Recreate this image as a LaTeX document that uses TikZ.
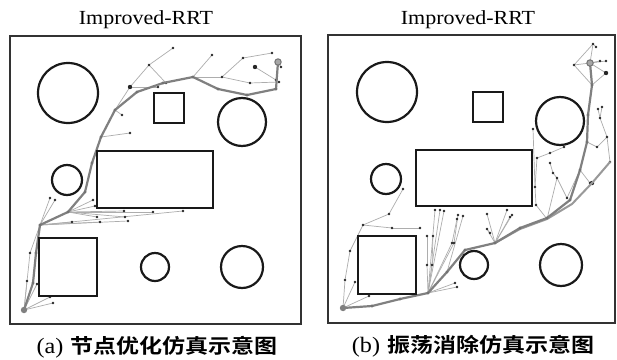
\documentclass[tikz,border=0pt]{standalone}
\usepackage{fontspec}
\setmainfont{Liberation Serif}
\newfontfamily\cjk[FakeStretch=1.15]{Noto Sans CJK SC Bold}
\newfontfamily\wideserif[FakeStretch=1.1]{Liberation Serif}
\begin{document}
\begin{tikzpicture}[x=1pt,y=-1pt,
  frame/.style={draw=black!80,line width=1.8pt},
  obst/.style={draw=black!90,line width=2.2pt},
  pathln/.style={draw=black!50,line width=2.2pt,line join=round,line cap=round},
  path2/.style={draw=black!40,line width=2pt,line join=round,line cap=round},
  tree/.style={draw=black!32,line width=0.7pt},
  dot/.style={fill=black!85},
  ttl/.style={font=\wideserif\fontsize{20}{22}\selectfont,inner sep=0pt},
  captxt/.style={inner sep=0pt}]
\useasboundingbox (0,0) rectangle (617,359);
\fill[white] (0,0) rectangle (617,359);

% titles
\node[ttl] (tA) at (146,20) {Improved-RRT};
\node[ttl] (tB) at (468,20) {Improved-RRT};

% captions
\node[captxt] (cA) at (157,347) {\wideserif\fontsize{22}{24}\selectfont (a)\hspace{7pt}{\cjk\fontsize{20}{22}\selectfont 节点优化仿真示意图}};
\node[captxt] (cB) at (473,346) {\wideserif\fontsize{22}{24}\selectfont (b)\hspace{7pt}{\cjk\fontsize{20}{22}\selectfont 振荡消除仿真示意图}};

% ================= LEFT PANEL =================
\foreach \ax/\ay/\bx/\by in {
 130/87/149/65, 149/65/173/48, 149/65/166/83, 130/87/158/87, 130/87/115/110,
 193/77/212/55, 193/77/222/77, 222/77/243/58, 243/58/272/53, 222/77/250/83,
 250/83/279/82, 255/67/276/80, 276/80/278/62, 278/62/281/67,
 101/137/130/133, 115/110/122/115,
 40/225/50/198, 40/225/55/200, 40/225/72/222, 40/225/100/222, 40/225/128/221, 40/225/183/211,
 68/212/93/200, 68/212/95/206, 68/212/97/217, 68/212/124/211, 68/212/125/217, 68/212/153/212,
 24/310/30/253, 24/310/27/281, 24/310/37/284, 24/310/50/297, 24/310/53/303, 30/253/40/225}
{\draw[tree] (\ax,\ay) -- (\bx,\by);}
\foreach \x/\y in {149/65,173/48,166/83,158/87,212/55,222/77,243/58,272/53,250/83,279/82,276/80,281/67,
 130/133,122/115,50/198,55/200,72/222,100/222,128/221,183/211,93/200,95/206,97/217,124/211,125/217,153/212,
 30/253,27/281,37/284,50/297,53/303}
{\fill[dot] (\x,\y) circle (1.4);}
\fill[dot] (130,87) circle (2.2);
\fill[dot] (255,67) circle (2.2);
% path
\draw[pathln] (24,310) -- (33,283) -- (36,253) -- (40,225) -- (68,212) -- (85,192) -- (92,163) -- (101,137)
 -- (115,110) -- (137,92) -- (163,83) -- (193,77) -- (218,89) -- (247,95) -- (276,89) -- (278,62);
\foreach \x/\y in {33/283,36/253,40/225,68/212,85/192,92/163,101/137,115/110,137/92,163/83,193/77,218/89,247/95,276/89}
{\fill[black!55] (\x,\y) circle (1.6);}
\fill[black!50] (24,310) circle (3.2);
\draw[black!55,line width=1pt,fill=black!35] (278,62) circle (3.2);

% obstacles
\draw[frame] (10,36) rectangle (301,324);
\draw[obst] (68,93) circle (30);
\draw[obst] (154,93) rectangle (184,123);
\draw[obst] (242,122) circle (24);
\draw[obst] (97,151) rectangle (213,208);
\draw[obst] (67,180) circle (15);
\draw[obst] (39,238) rectangle (97,296);
\draw[obst] (155,267) circle (14);
\draw[obst] (242,267) circle (21);

% ================= RIGHT PANEL =================
\foreach \ax/\ay/\bx/\by in {
 343/308/345/280, 345/280/350/251, 350/251/363/225, 363/225/389/214, 389/214/403/189,
 363/225/392/228, 392/228/420/228, 343/308/355/282, 343/308/369/296,
 428/293/427/265, 428/293/432/265, 427/265/427/236, 432/265/433/236,
 428/293/435/210, 428/293/440/210, 428/293/444/211, 428/293/452/243, 428/293/454/243,
 452/243/457/219, 454/243/458/215, 447/272/463/216, 428/293/455/283, 428/293/457/287,
 495/243/487/214, 495/243/487/229, 487/229/490/233, 495/243/507/210, 495/243/510/217, 495/243/512/215,
 547/219/536/205, 536/205/535/187, 535/187/533/129, 535/187/537/158, 537/158/550/153, 550/153/564/147,
 547/219/557/178, 557/178/553/173, 553/173/550/163, 557/178/567/198, 567/198/580/170,
 580/170/590/183, 592/183/610/162, 610/162/607/137, 607/137/600/118, 600/118/598/109, 600/118/602/107,
 587/142/597/147, 597/147/607/137,
 590/63/574/65, 574/65/593/44, 590/63/593/44, 593/44/596/47, 590/63/600/61, 590/63/606/61,
 590/63/606/73, 574/65/592/85, 606/73/592/85}
{\draw[tree] (\ax,\ay) -- (\bx,\by);}
\foreach \x/\y in {345/280,350/251,363/225,389/214,403/189,392/228,420/228,355/282,369/296,
 427/265,432/265,427/236,433/236,435/210,440/210,444/211,452/243,454/243,457/219,458/215,463/216,455/283,457/287,
 487/214,487/229,490/233,507/210,510/217,512/215,
 536/205,535/187,533/129,537/158,550/153,564/147,557/178,553/173,550/163,567/198,590/183,
 610/162,607/137,600/118,598/109,602/107,597/147,
 574/65,593/44,596/47,600/61,606/61}
{\fill[dot] (\x,\y) circle (1.4);}
\fill[dot] (606,73) circle (2.2);
\fill[dot] (592,183) circle (2.2);
% second (oscillating) path
\draw[path2] (495,243) -- (520,229) -- (547,219) -- (572,204) -- (592,183) -- (610,162);
% main path
\draw[pathln] (343,308) -- (372,306) -- (400,299) -- (428,293) -- (447,272) -- (465,250) -- (495,243)
 -- (520,228) -- (547,218) -- (570,200) -- (580,170) -- (587,142) -- (588,115) -- (592,85) -- (590,63);
\foreach \x/\y in {372/306,400/299,428/293,447/272,465/250,495/243,520/228,547/218,570/200,580/170,587/142,588/115,592/85}
{\fill[black!55] (\x,\y) circle (1.6);}
\fill[black!50] (343,308) circle (3.2);
\draw[black!55,line width=1pt,fill=black!35] (590,63) circle (3.2);

\draw[frame] (328,35) rectangle (615,323);
\draw[obst] (387,92) circle (30);
\draw[obst] (473,92) rectangle (503,122);
\draw[obst] (560,121) circle (24);
\draw[obst] (416,150) rectangle (532,206);
\draw[obst] (386,179) circle (15);
\draw[obst] (358,236) rectangle (416,294);
\draw[obst] (474,265) circle (14);
\draw[obst] (561,265) circle (21);
\end{tikzpicture}
\end{document}
